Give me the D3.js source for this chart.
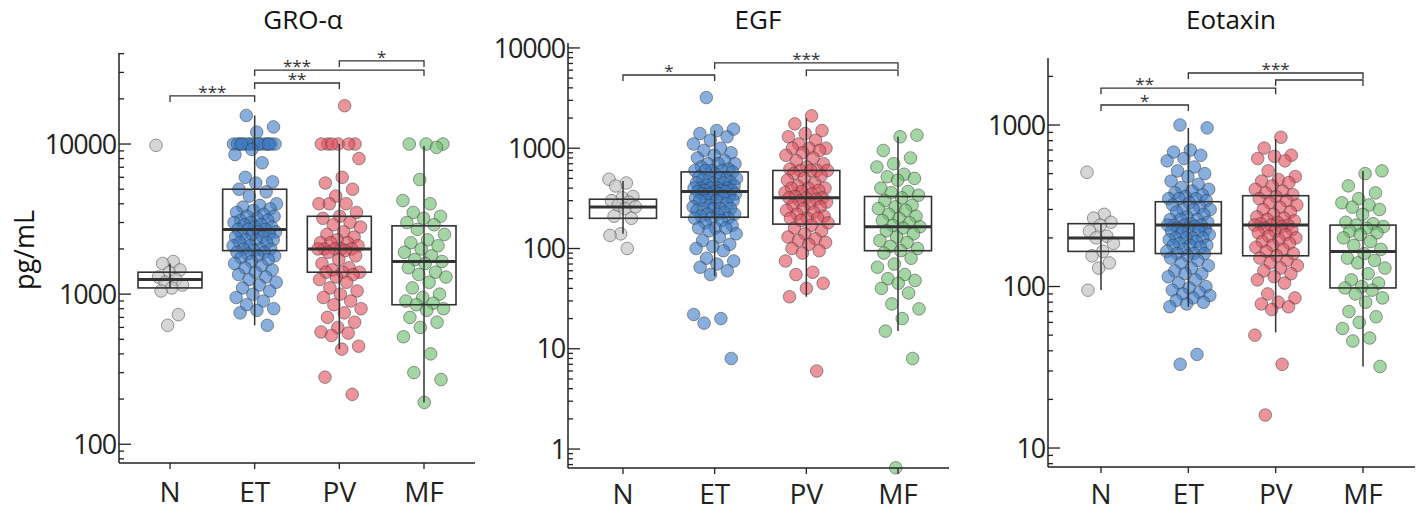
<!DOCTYPE html>
<html><head><meta charset="utf-8">
<script src="https://cdn.jsdelivr.net/npm/d3@7"></script>
<style>body{margin:0;background:#fff}svg{font-family:"Open Sans",sans-serif}</style>
</head><body><svg id="c" width="1426" height="513"></svg>
<script>
const groups = ["N","ET","PV","MF"];
const colors = ["#c4c4c4","#3d7cc6","#e0505e","#6cbb6c"];
const titles = ["GRO-α","EGF","Eotaxin"];
const rep=(v,n)=>Array(n).fill(v);
// panel 1: GRO-α
const gro_N=[9800,1650,1600,1450,1400,1300,1250,1200,1150,1100,1050,730,620];
const gro_ET=[15500,13000,12000,...rep(10000,15),9200,8500,7500,6000,5600,5500,5000,4800,4500,4000,3900,3800,3700,3600,3500,3400,3300,3300,3200,3100,3100,3000,3000,2900,2900,2800,2800,2700,2700,2700,2600,2600,2500,2500,2500,2400,2400,2300,2300,2300,2200,2200,2100,2100,2000,2000,2000,1950,1900,1900,1850,1800,1800,1750,1700,1650,1600,1550,1500,1450,1400,1350,1300,1250,1200,1150,1100,1050,1000,950,900,850,800,780,750,620];
const gro_PV=[18000,...rep(10000,6),8000,6000,5500,5000,4500,4000,4000,4000,3500,3300,3200,3000,2900,2800,2600,2500,2400,2300,2200,2200,2200,2100,2000,2000,2000,2000,2000,1950,1900,1800,1700,1600,1500,1450,1400,1400,1400,1350,1300,1250,1200,1100,1050,1000,950,900,850,800,750,700,650,600,560,550,530,450,430,280,215];
const gro_MF=[10000,10000,10000,9500,5800,4200,4000,3500,3300,3200,3000,2900,2700,2500,2300,2200,2100,2000,1900,1800,1700,1650,1600,1500,1400,1350,1300,1200,1100,1000,950,900,870,850,800,780,700,650,600,520,400,300,270,190];
// panel 2: EGF
const egf_N=[490,450,420,330,320,300,290,270,260,250,210,200,140,135,100];
const egf_ET=[3200,1550,1500,1400,1300,1200,1100,1000,950,900,850,800,750,700,700,700,650,620,600,600,600,600,580,550,520,500,500,500,500,480,460,450,450,450,430,420,400,400,400,400,400,380,380,380,370,370,370,350,350,350,350,330,320,320,320,300,300,300,300,280,270,260,250,250,250,250,240,230,220,220,220,210,200,200,200,190,180,170,160,160,160,150,140,130,120,110,105,100,95,80,75,70,65,60,55,22,20,18,8];
const egf_PV=[2100,1750,1500,1400,1300,1200,1100,1000,1000,1000,950,900,850,800,750,700,650,620,600,600,600,600,560,530,500,480,450,420,400,400,400,380,370,360,350,330,320,320,320,310,300,290,280,270,260,250,240,230,220,210,200,200,200,190,180,170,160,150,140,130,125,120,115,110,100,95,90,75,58,55,45,40,33,6];
const egf_MF=[1350,1300,950,800,700,650,550,520,500,480,400,370,360,340,320,300,270,260,250,240,220,210,200,190,180,170,165,160,150,140,130,120,115,105,100,95,90,80,70,65,55,50,48,45,40,36,28,25,20,15,8,0.65];
// panel 3: Eotaxin
const eot_N=[510,280,265,250,240,220,205,200,185,165,155,140,130,95];
const eot_ET=[1000,960,700,680,650,620,600,550,520,500,480,450,430,410,400,390,380,370,360,350,350,350,340,330,320,310,300,300,300,290,280,270,260,260,260,250,245,240,240,240,240,235,230,225,220,220,220,215,210,200,200,200,200,195,190,185,180,180,180,175,170,165,160,160,160,155,150,145,140,135,130,125,120,120,115,110,105,100,98,95,92,90,88,85,82,80,78,75,38,33];
const eot_PV=[840,720,650,640,620,600,520,480,460,450,440,420,400,390,380,370,360,350,340,330,320,310,300,290,280,270,265,260,255,250,245,240,240,240,235,230,225,220,215,210,205,200,195,190,185,180,175,170,165,160,155,150,145,140,135,130,125,120,115,110,105,90,85,80,78,75,72,50,33,16];
const eot_MF=[520,500,420,380,350,330,320,310,300,280,250,245,240,235,230,220,215,210,200,190,180,170,160,150,145,140,130,120,110,105,100,98,95,90,85,80,70,65,60,55,48,46,32];
// box stats [q1, median, q3, whiskerLow, whiskerHigh]
const gro_box=[[1100,1250,1400,1100,1600],[1950,2700,5000,620,15500],[1400,2000,3300,430,10000],[850,1650,2850,190,9700]];
const egf_box=[[200,260,310,140,470],[205,370,580,53,1500],[175,320,600,33,2000],[95,165,330,15,1300]];
const eot_box=[[165,200,245,95,245],[160,240,335,75,960],[155,240,365,52,820],[98,165,240,32,520]];
// significance: [from, to, level, label, labelPair]
const gro_sig=[["N","ET",20900,"***"],["ET","PV",25500,"**"],["ET","MF",31100,"***","PV"],["PV","MF",35800,"*"]];
const egf_sig=[["N","ET",5370,"*"],["PV","MF",6000,""],["ET","MF",7080,"***"]];
const eot_sig=[["N","ET",1330,"*"],["N","PV",1690,"**","ET"],["PV","MF",1900,""],["ET","MF",2100,"***"]];

const panels=[
 {title:titles[0],data:[gro_N,gro_ET,gro_PV,gro_MF],box:gro_box,sig:gro_sig,dom:[75,40400],x0:119,x1:475,y0:463,y1:53,cx:[170,255,340,424],bw:64,tx:303,ylab:true},
 {title:titles[1],data:[egf_N,egf_ET,egf_PV,egf_MF],box:egf_box,sig:egf_sig,dom:[0.647,11200],x0:568,x1:949,y0:468,y1:43,cx:[623,713,804,898],bw:67,tx:758},
 {title:titles[2],data:[eot_N,eot_ET,eot_PV,eot_MF],box:eot_box,sig:eot_sig,dom:[7.63,2600],x0:1048,x1:1415,y0:467,y1:58,cx:[1101,1188,1275,1363],bw:66,tx:1231}
];
const svg=d3.select("#c");
panels.forEach(p=>{
  const g=svg.append("g");
  const y=d3.scaleLog().domain(p.dom).range([p.y0,p.y1]);
  const x=d3.scalePoint().domain(groups).range([p.cx[0],p.cx[3]]);
  const bw=p.bw;
  p.data.forEach((arr,gi)=>{
    const spread = arr.length>30?22:14;
    g.selectAll(null).data(arr).enter().append("circle")
     .attr("cx",(d,i)=>x(groups[gi])+((i*0.6180339+0.31*gi)%1-0.5)*2*spread)
     .attr("cy",d=>y(d)).attr("r",6.3)
     .attr("fill",colors[gi]).attr("fill-opacity",gi==0?0.7:0.62)
     .attr("stroke","#333").attr("stroke-opacity",0.6).attr("stroke-width",0.8);
  });
  p.box.forEach((b,gi)=>{
    const cx=x(groups[gi]);
    g.append("line").attr("x1",cx).attr("x2",cx).attr("y1",y(b[3])).attr("y2",y(b[4])).attr("stroke","#333").attr("stroke-width",1.5);
    g.append("rect").attr("x",cx-bw/2).attr("width",bw).attr("y",y(b[2])).attr("height",y(b[0])-y(b[2])).attr("fill","none").attr("stroke","#333").attr("stroke-width",1.6);
    g.append("line").attr("x1",cx-bw/2).attr("x2",cx+bw/2).attr("y1",y(b[1])).attr("y2",y(b[1])).attr("stroke","#333").attr("stroke-width",3);
  });
  const ya=g.append("g").attr("transform",`translate(${p.x0},0)`);
  ya.append("line").attr("y1",p.y0).attr("y2",p.y1).attr("stroke","#222").attr("stroke-width",1.5);
  const ticks=y.ticks();
  ya.selectAll(null).data(ticks).enter().append("line")
    .attr("x1",0).attr("x2",d=>Math.abs(Math.log10(d)%1)<1e-9?12:5)
    .attr("y1",d=>y(d)).attr("y2",d=>y(d)).attr("stroke","#222").attr("stroke-width",1.3);
  ya.selectAll(null).data(ticks.filter(d=>Math.abs(Math.log10(d)%1)<1e-9)).enter().append("text")
    .attr("x",-3).attr("y",d=>y(d)).attr("dy","0.36em").attr("text-anchor","end")
    .attr("font-size",27).attr("letter-spacing",-1.2).attr("fill","#222").text(d=>d3.format("d")(d));
  const xa=g.append("g");
  xa.append("line").attr("x1",p.x0).attr("x2",p.x1).attr("y1",p.y0).attr("y2",p.y0).attr("stroke","#222").attr("stroke-width",1.5);
  groups.forEach(k=>{
    xa.append("line").attr("x1",x(k)).attr("x2",x(k)).attr("y1",p.y0).attr("y2",p.y0+6).attr("stroke","#222").attr("stroke-width",1.3);
    xa.append("text").attr("x",x(k)).attr("y",Math.min(p.y0+39,504)).attr("text-anchor","middle").attr("font-size",28).attr("fill","#222").text(k);
  });
  p.sig.forEach(s=>{
    const a=x(s[0]),b=x(s[1]),yy=y(s[2]);
    g.append("path").attr("d",`M${a},${yy+6}V${yy}H${b}V${yy+6}`).attr("fill","none").attr("stroke","#333").attr("stroke-width",1.3);
    if(s[3]){
      const lx=s[4]?(a+x(s[4]))/2:(a+b)/2;
      g.append("text").attr("x",lx).attr("y",yy+2).attr("text-anchor","middle").attr("font-size",17).attr("fill","#333").text(s[3]);
    }
  });
  g.append("text").attr("x",p.tx).attr("y",29).attr("text-anchor","middle").attr("font-size",26).attr("fill","#111").text(p.title);
  if(p.ylab) g.append("text").attr("transform","translate(34,250) rotate(-90)").attr("text-anchor","middle").attr("font-size",27).attr("fill","#111").text("pg/mL");
});
</script></body></html>
